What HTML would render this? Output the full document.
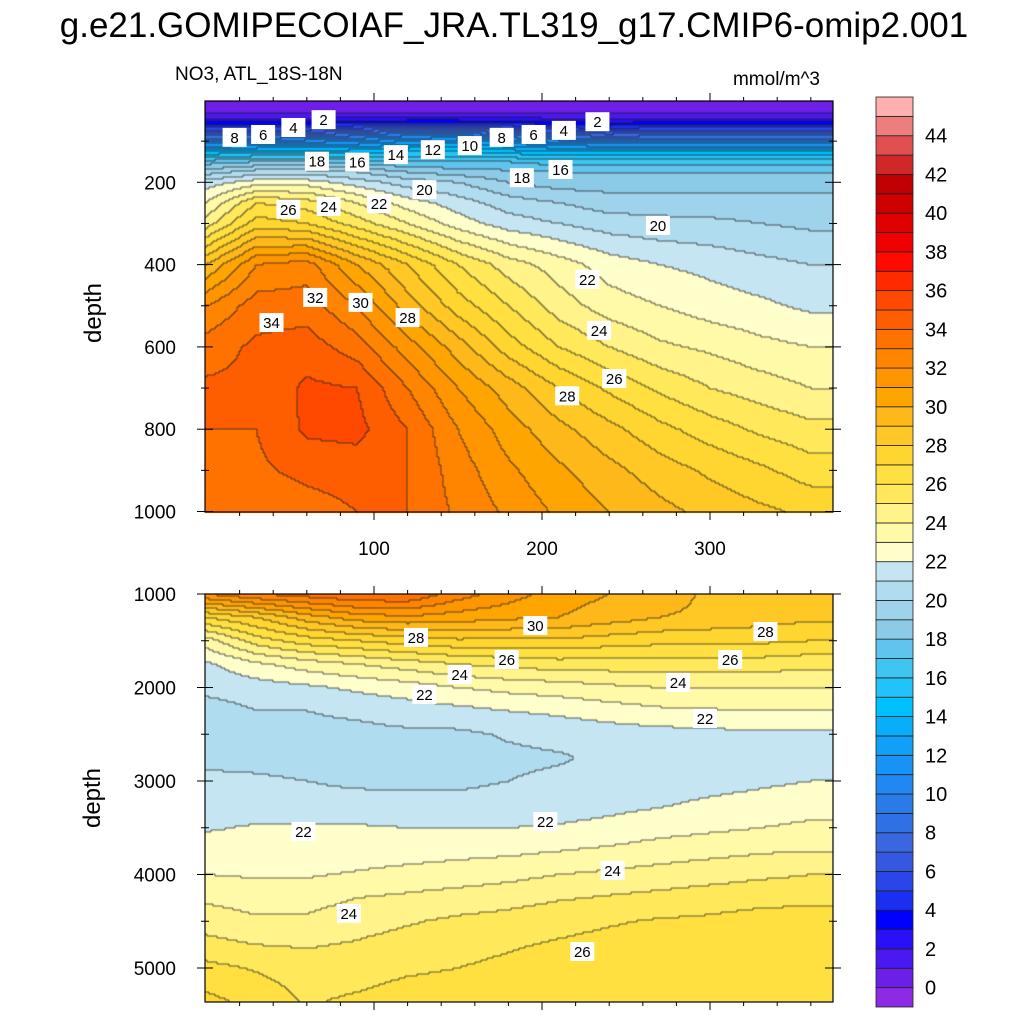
<!DOCTYPE html>
<html><head><meta charset="utf-8">
<style>
body{margin:0;background:#fff;width:1024px;height:1024px;overflow:hidden;font-family:"Liberation Sans",sans-serif}
#wrap{position:relative;width:1024px;height:1024px}
canvas{position:absolute;left:0;top:0}
svg{position:absolute;left:0;top:0}
</style></head>
<body>
<div id="wrap">
<canvas id="cv" width="1024" height="1024"></canvas>
<svg id="sv" width="1024" height="1024"></svg>
</div>
<script>
// ---- data ----
const xCols = [0,30,60,90,120,150,180,210,240,270,300,330,360];
const topDepths = [0,20,40,60,80,100,125,150,175,200,250,300,400,500,600,700,800,900,1000];
const topValues = [
[0.5,0.5,0.5,0.5,0.5,0.5,0.5,0.5,0.5,0.5,0.5,0.5,0.5],
[0.5,0.5,0.5,0.5,0.5,0.5,0.5,0.5,0.5,0.5,0.5,0.5,0.5],
[1.5,1.5,1.5,1.5,1.5,1.5,1.5,1.5,1.5,1.5,1.5,1.5,1.5],
[4,4,4,4.5,5,5,4.5,4,3.5,4,4,4,4],
[7,7,7,8,9,9,8,7,6.5,7,7,7,7],
[10,10,10.5,11,12,12.5,11.5,10.5,10,10,10,10,10],
[14,14.5,14.5,14.5,15,15,14.5,14,14,14,14,14,14],
[17.5,18,18,17.5,17,17,17,16.5,16.5,16.5,16.5,16.5,16.5],
[19.5,20.5,20.5,20,19,18.5,18.2,18,18,18,18,18,18],
[21.5,22.5,22.5,21.5,20.5,20,19,18.5,18.5,18.5,18.5,18.5,18.5],
[23,26,25.5,24,22.5,21.5,20.5,20,19.5,19.5,19.5,19.5,19.5],
[24.5,27.5,27,25.5,24,22.5,21.5,21,20.5,20.3,20.2,20,19.8],
[29,32,32.5,30,28,26,24.5,23.5,22.5,22,21.7,21.3,21],
[32,33.5,33.5,32,29.5,27.5,26,24.5,23.5,23,22.5,22.2,21.8],
[33.5,34.2,34.5,33.5,31.5,29.5,27.5,26,25,24.2,23.8,23.3,23],
[34.2,34.2,35.2,35,33,31,29.5,28,26.8,25.8,25,24.5,24],
[34,34,35.2,35.3,34,32,30.5,29.3,28.3,27.3,26.5,25.8,25.3],
[33.5,33.8,34.3,34.5,34,32.5,31.2,30.2,29.3,28.5,27.8,27.2,26.5],
[33,33.2,33.5,34,34,32.8,31.8,30.8,30,29.3,28.7,28.2,27.8]
];
const botDepths = [1000,1250,1500,1750,2000,2250,2500,2750,3000,3250,3500,3750,4000,4250,4500,4750,5000,5364];
const botValues = [
[32,33,33.5,34,34,32.5,31.5,30.5,30,29.5,28.8,28.3,28],
[27,28,29.5,30.5,30.8,30.5,30.2,30,29.5,29,28.8,28.5,28.2],
[23.5,25.5,26.5,27,27.5,27.8,27.8,27.8,27.5,27.3,27.2,27.2,27],
[21.8,22.8,23.5,24,24.5,25,25.3,25.5,25.5,25.5,25.5,25.5,25.3],
[21.3,21.5,21.8,22.2,22.5,23,23.3,23.5,23.8,24,24,24,24],
[20.5,21,21,21.2,21.5,21.7,22,22.2,22.5,22.8,22.9,23,23],
[20.5,20.5,20.7,20.7,20.8,20.8,21.1,21.3,21.5,21.6,21.7,21.8,21.8],
[20.8,20.6,20.5,20.5,20.6,20.6,20.8,20.9,21.2,21.3,21.4,21.4,21.4],
[21.2,21.2,21,20.8,20.8,20.8,21,21.2,21.3,21.4,21.6,21.8,22],
[21.5,21.5,21.4,21.4,21.3,21.3,21.4,21.5,21.7,21.9,22.2,22.4,22.6],
[21.9,22.1,22.1,22.1,22,22,22,22.1,22.3,22.6,22.8,23,23.2],
[22.5,22.5,22.4,22.5,22.6,22.7,22.8,23,23.2,23.5,23.7,23.9,24],
[23,22.9,22.9,23.1,23.3,23.5,23.7,24,24.2,24.4,24.6,24.8,25],
[23.8,23.5,23.6,24,24.2,24.4,24.6,24.9,25.1,25.3,25.5,25.7,25.8],
[24.6,24.2,24.2,24.6,24.9,25.2,25.4,25.7,25.9,26.1,26.2,26.4,26.4],
[25.3,25,24.9,25.1,25.4,25.7,25.9,26.1,26.3,26.5,26.6,26.7,26.7],
[26.3,25.9,25.5,25.5,25.8,26,26.2,26.4,26.6,26.8,26.9,26.9,26.9],
[27.3,26.7,25.9,26.2,26.6,26.8,26.85,26.9,26.9,26.9,26.9,26.9,26.9]
];
const colorLevels = ['#8c2ae6','#6c1fe6','#4a18f0','#2a10f5','#0000ff','#1a2ff0','#2a45e8','#3458e0','#3a66e0','#3070e5','#2a7ae8','#2088f0','#1893f5','#10a0f8','#08aefa','#00c0ff','#20c4f8','#40c4f0','#60c4ee','#8ccbe8','#9fd3ec','#b0dcf0','#c6e5f2','#ffffcc','#fffaa8','#fff38a','#ffe95a','#ffe040','#ffd530','#ffc825','#ffb81a','#ffa500','#ff9600','#ff8500','#ff7200','#ff5e00','#ff4800','#ff2a00','#ff0a00','#f00000','#e00000','#d00000','#c00000','#d02828','#e05050','#ee7d7d','#ffb0b0'];
const cbLabels = [0,2,4,6,8,10,12,14,16,18,20,22,24,26,28,30,32,34,36,38,40,42,44];
const topYTicks = [200,400,600,800,1000];
const botYTicks = [1000,2000,3000,4000,5000];
const xTicks = [100,200,300];
const topLabels = [[17,92,'8'],[34,85,'6'],[52,68,'4'],[70,49,'2'],[176,92,'8'],[195,85,'6'],[213,75,'4'],[233,54,'2'],[113,134,'14'],[135,122,'12'],[157,112,'10'],[66,150,'18'],[90,152,'16'],[188,190,'18'],[211,170,'16'],[130,219,'20'],[49,267,'26'],[73,260,'24'],[103,253,'22'],[269,306,'20'],[227,437,'22'],[234,561,'24'],[243,678,'26'],[215,720,'28'],[65,481,'32'],[92,493,'30'],[120,530,'28'],[39,542,'34']];
const botLabels = [[125,1470,'28'],[196,1342,'30'],[333,1406,'28'],[151,1866,'24'],[179,1706,'26'],[312,1706,'26'],[281,1952,'24'],[130,2080,'22'],[297,2337,'22'],[58,3545,'22'],[202,3439,'22'],[242,3963,'24'],[85,4422,'24'],[224,4829,'26']];

// ---- geometry ----
const PX0=205, PX1=833;
const xs = v => PX0 + (v+0.6)*1.68;
const topY = d => 100 + d*0.4115;
const botY = d => 594 + (d-1000)*0.0935;
const TOP={y0:101,y1:512,inv:y=>(y-100)/0.4115,dep:topDepths,val:topValues,map:topY};
const BOT={y0:594,y1:1002,inv:y=>1000+(y-594)/0.0935,dep:botDepths,val:botValues,map:botY};
function bracket(arr,v){let i=0;while(i<arr.length-2&&v>arr[i+1])i++;let t=(v-arr[i])/(arr[i+1]-arr[i]);t=Math.max(0,Math.min(1,t));return [i,t];}
function sample(P,x,d){const [i,ti]=bracket(xCols,x);const [j,tj]=bracket(P.dep,d);const V=P.val;
 const a=V[j][i]*(1-ti)+V[j][i+1]*ti, b=V[j+1][i]*(1-ti)+V[j+1][i+1]*ti; return a*(1-tj)+b*tj;}
function lvl(v){return Math.max(0,Math.min(colorLevels.length-1,Math.floor(v)+1));}
const cv=document.getElementById('cv'), ctx=cv.getContext('2d');
const S=2;
function drawPanel(P){
 const W=Math.ceil((PX1-PX0)/S), H=Math.ceil((P.y1-P.y0)/S); const L=[];
 for(let r=0;r<H;r++){L.push([]);for(let c=0;c<W;c++){const px=PX0+c*S+S/2,py=P.y0+r*S+S/2;
  const x=(px-PX0)/1.68-0.6, d=P.inv(py); L[r].push(lvl(sample(P,x,d)));}}
 for(let r=0;r<H;r++)for(let c=0;c<W;c++){ctx.fillStyle=colorLevels[L[r][c]];ctx.fillRect(PX0+c*S,P.y0+r*S,S,S);}
 ctx.fillStyle='rgba(30,30,30,0.7)';
 for(let r=0;r<H;r++)for(let c=0;c<W;c++){
  if(c+1<W&&L[r][c]!==L[r][c+1])ctx.fillRect(PX0+(c+1)*S-0.5,P.y0+r*S,1,S);
  if(r+1<H&&L[r][c]!==L[r+1][c])ctx.fillRect(PX0+c*S,P.y0+(r+1)*S-0.5,S,1);}
}
drawPanel(TOP);drawPanel(BOT);

// ---- svg overlay ----
const NS='http://www.w3.org/2000/svg', sv=document.getElementById('sv');
function el(t,a,txt){const e=document.createElementNS(NS,t);for(const k in a)e.setAttribute(k,a[k]);if(txt!==undefined)e.textContent=txt;sv.appendChild(e);return e;}
function text(x,y,s,size,anchor,name){const e=el('text',{x:x,y:y,'font-size':size,'text-anchor':anchor||'start','font-family':'Liberation Sans, sans-serif',fill:'#000'},s);
 
 return e;}
function line(x1,y1,x2,y2,w,name){const e=el('line',{x1:x1,y1:y1,x2:x2,y2:y2,stroke:'#000','stroke-width':w||1});
 
 return e;}
text(514,37,'g.e21.GOMIPECOIAF_JRA.TL319_g17.CMIP6-omip2.001',35,'middle','chart-title');
text(175,80,'NO3, ATL_18S-18N',19,'start','subtitle-left');
text(820,85,'mmol/m^3',19,'end','units-label');
[TOP,BOT].forEach((P,k)=>{
 const f=el('rect',{x:PX0,y:P.y0,width:PX1-PX0,height:P.y1-P.y0,fill:'none',stroke:'#000','stroke-width':1.2});
 
 
 const yt=k?botYTicks:topYTicks;
 const step=k?500:100;
 for(let d=(k?1000:100);d<=(k?5300:1000);d+=step){const y=P.map(d);const maj=yt.indexOf(d)>=0;
  line(PX0,y,PX0+(maj?-8:-4),y,1,'y-tick');line(PX1,y,PX1+(maj?8:4),y,1,'y-tick');
  line(PX0,y,PX0+(maj?8:4),y,1,'y-tick-inner');line(PX1,y,PX1-(maj?8:4),y,1,'y-tick-inner');}
 yt.forEach(d=>{text(176,P.map(d)+7,String(d),19,'end','y-tick-label');});
 for(let v=20;v<=360;v+=20){const x=xs(v);const maj=xTicks.indexOf(v)>=0;
  line(x,P.y0,x,P.y0-(maj?8:4),1,'x-tick');line(x,P.y1,x,P.y1+(maj?8:4),1,'x-tick');}
 const dl=text(0,0,'depth',24,'middle',k?'bottom-y-axis-title':'top-y-axis-title');
 dl.setAttribute('transform','translate('+(k?100:101)+','+(k?798:313)+') rotate(-90)');
});
xTicks.forEach(v=>text(xs(v),555,String(v),19,'middle','x-tick-label'));
function clabel(P,x,d,s){const cx=xs(x),cy=P.map(d);
 const r=el('rect',{x:cx-12,y:cy-10,width:24,height:19,fill:'#fff'});
 
 
 text(cx,cy+5,s,15,'middle','contour-label');}
topLabels.forEach(a=>clabel(TOP,a[0],a[1],a[2]));
botLabels.forEach(a=>clabel(BOT,a[0],a[1],a[2]));
// colorbar
const CBH=(1007-97)/colorLevels.length;
colorLevels.forEach((c,i)=>{const y=1007-(i+1)*CBH;
 const r=el('rect',{x:876,y:y,width:37,height:CBH,fill:c,stroke:'#222','stroke-width':0.8});
 
 });
cbLabels.forEach(v=>{const y=1007-(v+1)*CBH;text(925,y+7,String(v),20,'start','colorbar-label');});
</script>
</body></html>
